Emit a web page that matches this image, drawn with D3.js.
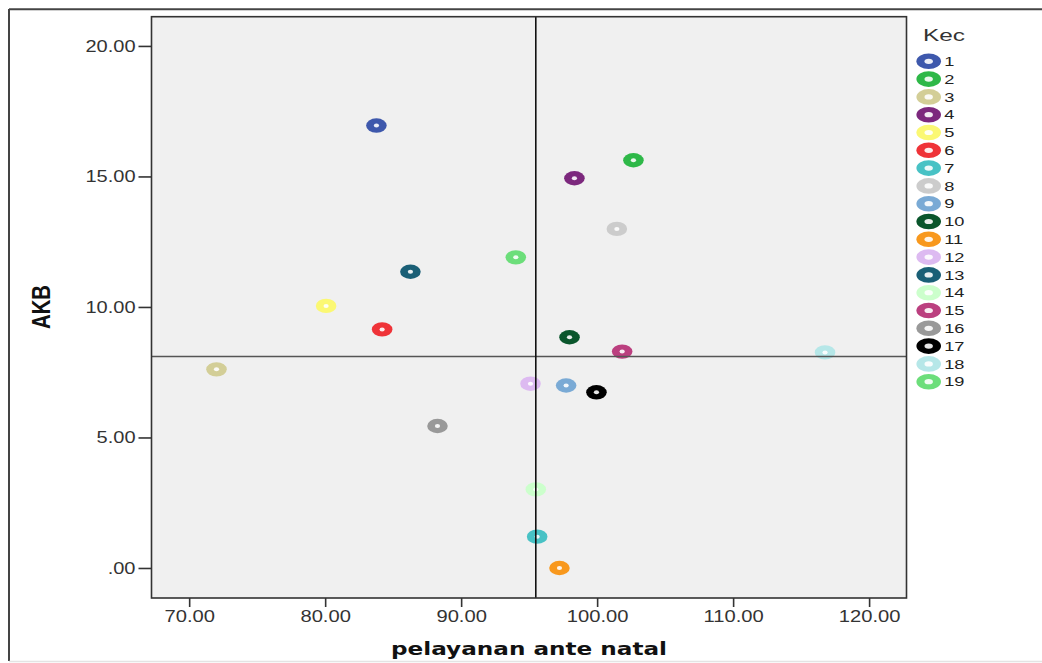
<!DOCTYPE html>
<html>
<head>
<meta charset="utf-8">
<script src="https://cdn.jsdelivr.net/npm/d3@7"></script>
<style>
  html, body { margin: 0; padding: 0; background: #fff; }
  svg { display: block; }
</style>
</head>
<body>
<svg id="chart" width="1042" height="663"></svg>
<script>
// ---- data ----
const kec = ["1","2","3","4","5","6","7","8","9","10","11","12","13","14","15","16","17","18","19"];
const antenatal = [83.77, 102.67, 72.01, 98.33, 80.07, 84.19, 95.59, 101.45, 97.72, 97.97, 97.23, 95.10, 86.27, 95.49, 101.84, 88.26, 99.95, 116.76, 94.02];
const akb = [16.95, 15.62, 7.61, 14.93, 10.04, 9.14, 1.20, 12.99, 6.99, 8.84, 0.00, 7.06, 11.35, 3.01, 8.29, 5.44, 6.73, 8.26, 11.90];
const colors = ["#3e58ac","#2eb848","#d3ce97","#7c287d","#fbf873","#ef3338","#48c2c5","#cccccc","#7aaad5","#0a562c","#f8981d","#ddbaf1","#1a5f76","#ccffcc","#bb3f7f","#999999","#000000","#b6e7e8","#6cde7a"];
const xTicks = [70, 80, 90, 100, 110, 120];
const yTicks = [0, 5, 10, 15, 20];
const refX = 95.49;
const refY = 8.10;
const xTitle = "pelayanan ante natal";
const yTitle = "AKB";
const legendTitle = "Kec";

// ---- layout ----
const svg = d3.select("#chart");
const plot = { left: 151.5, right: 906.5, top: 16.7, bottom: 598 };
const x = d3.scaleLinear().domain([67.23, 122.75]).range([plot.left, plot.right]);
const y = d3.scaleLinear().domain([-1.15, 21.12]).range([plot.bottom, plot.top]);

function stretch(sel, factor) {
  sel.each(function () {
    const w = this.getComputedTextLength();
    d3.select(this).attr("textLength", w * factor).attr("lengthAdjust", "spacingAndGlyphs");
  });
}

// outer frame
svg.append("line").attr("x1", 9).attr("x2", 9).attr("y1", 9).attr("y2", 661)
  .attr("stroke", "#444").attr("stroke-width", 2);
svg.append("line").attr("x1", 9).attr("x2", 1042).attr("y1", 9.3).attr("y2", 9.3)
  .attr("stroke", "#444").attr("stroke-width", 2);
svg.append("line").attr("x1", 9).attr("x2", 1042).attr("y1", 661.5).attr("y2", 661.5)
  .attr("stroke", "#e4e4e4").attr("stroke-width", 1.5);

// plot background
svg.append("rect")
  .attr("x", plot.left).attr("y", plot.top)
  .attr("width", plot.right - plot.left).attr("height", plot.bottom - plot.top)
  .attr("fill", "#f0f0f0");

// points
const pts = svg.append("g").selectAll("g").data(kec).join("g")
  .attr("transform", (d, i) => `translate(${x(antenatal[i])},${y(akb[i])})`);
pts.append("ellipse").attr("rx", 10.3).attr("ry", 7.2).attr("fill", (d, i) => colors[i]);
pts.append("ellipse").attr("rx", 2.6).attr("ry", 2.0).attr("fill", "#fff").attr("opacity", 0.9);

// reference lines
svg.append("line")
  .attr("x1", plot.left).attr("x2", plot.right)
  .attr("y1", y(refY)).attr("y2", y(refY))
  .attr("stroke", "#555").attr("stroke-width", 1.5);
svg.append("line")
  .attr("x1", x(refX)).attr("x2", x(refX))
  .attr("y1", plot.top).attr("y2", plot.bottom)
  .attr("stroke", "#111").attr("stroke-width", 1.6);

// plot border
svg.append("rect")
  .attr("x", plot.left).attr("y", plot.top)
  .attr("width", plot.right - plot.left).attr("height", plot.bottom - plot.top)
  .attr("fill", "none").attr("stroke", "#333").attr("stroke-width", 1.6);

const fmt = v => v === 0 ? ".00" : d3.format(".2f")(v);

// x axis
const gx = svg.append("g").attr("transform", `translate(0,${plot.bottom})`)
  .call(d3.axisBottom(x).tickValues(xTicks).tickFormat(fmt).tickSize(9).tickPadding(4));
gx.select(".domain").remove();
gx.selectAll(".tick line").attr("stroke", "#333").attr("stroke-width", 1.6);
gx.selectAll(".tick text").attr("font-family", "'Liberation Sans', Arial, sans-serif")
  .attr("font-size", 16).attr("fill", "#333");
stretch(gx.selectAll(".tick text"), 1.26);

// y axis
const gy = svg.append("g").attr("transform", `translate(${plot.left},0)`)
  .call(d3.axisLeft(y).tickValues(yTicks).tickFormat(fmt).tickSize(13).tickPadding(3));
gy.select(".domain").remove();
gy.selectAll(".tick line").attr("stroke", "#333").attr("stroke-width", 1.6);
gy.selectAll(".tick text").attr("font-family", "'Liberation Sans', Arial, sans-serif")
  .attr("font-size", 16).attr("fill", "#333");
stretch(gy.selectAll(".tick text"), 1.25);

// axis titles
svg.append("text")
  .attr("x", 529).attr("y", 655)
  .attr("text-anchor", "middle")
  .attr("font-family", "'DejaVu Sans', Verdana, sans-serif")
  .attr("font-weight", "bold").attr("font-size", 18).attr("fill", "#111")
  .attr("textLength", 276).attr("lengthAdjust", "spacingAndGlyphs")
  .text(xTitle);

svg.append("text")
  .attr("transform", "translate(50,307) rotate(-90)")
  .attr("text-anchor", "middle")
  .attr("font-family", "'Liberation Sans Narrow', 'Liberation Sans', Arial, sans-serif")
  .attr("font-weight", "bold").attr("font-size", 25).attr("fill", "#111")
  .attr("textLength", 44).attr("lengthAdjust", "spacingAndGlyphs")
  .text(yTitle);

// legend
const lg = svg.append("g");
lg.append("text")
  .attr("x", 923).attr("y", 40.7)
  .attr("font-family", "'Liberation Sans', Arial, sans-serif")
  .attr("font-size", 16).attr("fill", "#333")
  .attr("textLength", 42).attr("lengthAdjust", "spacingAndGlyphs")
  .text(legendTitle);
const legendY = d3.scalePoint().domain(kec).range([61.3, 381.7]);
const li = lg.selectAll("g.item").data(kec).join("g").attr("class", "item")
  .attr("transform", d => `translate(928.7,${legendY(d)})`);
li.append("ellipse").attr("rx", 12.3).attr("ry", 7.8).attr("fill", (d, i) => colors[i]);
li.append("ellipse").attr("rx", 4.2).attr("ry", 2.6).attr("fill", "#fff").attr("opacity", 0.9);
const lt = li.append("text")
  .attr("x", 15.5).attr("y", 4.7)
  .attr("font-family", "'Liberation Sans', Arial, sans-serif")
  .attr("font-size", 13).attr("fill", "#222")
  .text(d => d);
stretch(lt, 1.4);
</script>
</body>
</html>
